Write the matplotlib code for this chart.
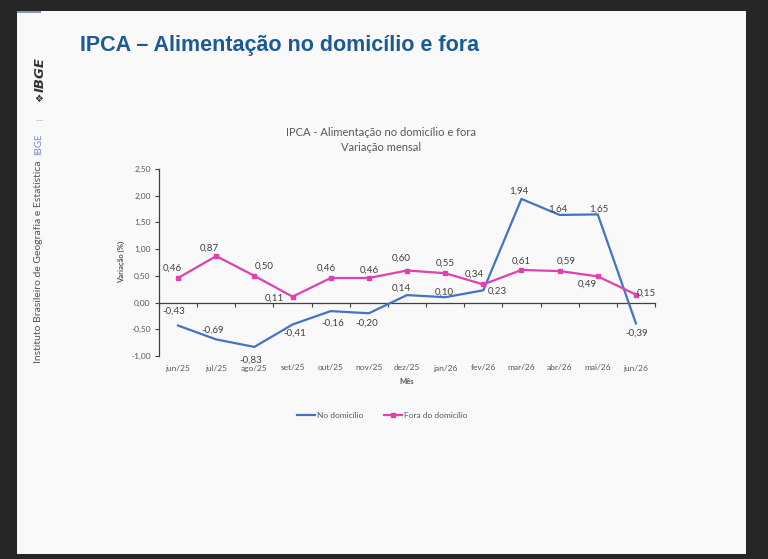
import matplotlib
matplotlib.use('Agg')
import matplotlib.pyplot as plt
from matplotlib.patches import Rectangle

# data
meses = ['jun/25', 'jul/25', 'ago/25', 'set/25', 'out/25', 'nov/25', 'dez/25',
         'jan/26', 'fev/26', 'mar/26', 'abr/26', 'mai/26', 'jun/26']
no_domicilio = [-0.43, -0.69, -0.83, -0.41, -0.16, -0.20, 0.14, 0.10, 0.23, 1.94, 1.64, 1.65, -0.39]
fora_domicilio = [0.46, 0.87, 0.50, 0.11, 0.46, 0.46, 0.60, 0.55, 0.34, 0.61, 0.59, 0.49, 0.15]
y_ticks = [-1.0, -0.5, 0.0, 0.5, 1.0, 1.5, 2.0, 2.5]

# label offsets in pixels (dx, dy) relative to each point
off_no = [(-4, 14), (-4, 9), (-4, -13), (2, -9), (2, -12), (-2, -10), (-6, 7),
          (-1, 5), (14, -1), (-3, 8), (-2, 6), (1, 5), (1, -10)]
off_fora = [(-6, 10), (-7, 8), (10, 10), (-18, -1), (-4, 10), (0, 8), (-6, 12),
            (0, 10), (-9, 10), (0, 9), (7, 10), (-10, -8), (10, 1)]

BLUE = '#4472C4'
PINK = '#E040B0'
GRAY = '#595959'
FONT = 'Lato'

W, H = 768, 559
fig = plt.figure(figsize=(W / 100, H / 100), dpi=100)
fig.patch.set_facecolor('#262626')

# slide background
fig.add_artist(Rectangle((17 / W, 1 - 554 / H), (746 - 17) / W, (554 - 11) / H,
                         transform=fig.transFigure, facecolor='#F9F9F9', edgecolor='none', zorder=0))
fig.add_artist(Rectangle((17 / W, 1 - 13 / H), 24 / W, 2 / H,
                         transform=fig.transFigure, facecolor='#8595B5', edgecolor='none', zorder=1))

# slide header
fig.text(80 / W, 1 - 45 / H, 'IPCA – Alimentação no domicílio e fora',
         family='Liberation Sans', fontsize=15.5, fontweight='bold',
         color='#1B5A96', va='center', ha='left')

# left branding
fig.text(40 / W, 1 - 75 / H, 'IBGE', rotation=90, family='DejaVu Sans', fontsize=9.5,
         fontweight='bold', style='italic', color='#333333', ha='center', va='center')
fig.text(40 / W, 1 - 97 / H, '\u2756', rotation=90, family='DejaVu Sans', fontsize=7.5,
         color='#333333', ha='center', va='center')
fig.add_artist(Rectangle((36 / W, 1 - 121 / H), 7 / W, 1 / H, transform=fig.transFigure,
                         facecolor='#D0D0D0', edgecolor='none'))
fig.text(39 / W, 1 - 144 / H, 'IBGE', rotation=90, family=FONT, fontsize=7,
         color='#7A8CC8', ha='center', va='center')
fig.text(39 / W, 1 - 262 / H, 'Instituto Brasileiro de Geografia e Estatística', rotation=90,
         family=FONT, fontsize=7.5, color='#555555', ha='center', va='center')

# chart
ax = fig.add_axes([159 / W, 1 - 356 / H, (655 - 159) / W, (356 - 169) / H])
ax.set_facecolor('none')
x = list(range(len(meses)))

ax.plot(x, no_domicilio, color=BLUE, lw=1.6, label='No domicílio', zorder=3)
ax.plot(x, fora_domicilio, color=PINK, lw=1.6, marker='s', ms=2.5, label='Fora do domicílio', zorder=3)

for xi, v, (dx, dy) in zip(x, no_domicilio, off_no):
    ax.annotate(f'{v:.2f}'.replace('.', ','), (xi, v), xytext=(dx, dy), textcoords='offset pixels',
                ha='center', va='center', fontsize=7, color='#404040', family=FONT)
for xi, v, (dx, dy) in zip(x, fora_domicilio, off_fora):
    ax.annotate(f'{v:.2f}'.replace('.', ','), (xi, v), xytext=(dx, dy), textcoords='offset pixels',
                ha='center', va='center', fontsize=7, color='#404040', family=FONT)

ax.set_xlim(-0.5, len(meses) - 0.5)
ax.set_ylim(-1.0, 2.5)
ax.set_yticks(y_ticks)
ax.set_yticklabels([f'{t:.2f}'.replace('.', ',') for t in y_ticks], fontsize=6,
                   color=GRAY, family=FONT)
ax.tick_params(axis='y', direction='out', length=3, width=0.8, color='#404040', pad=3)

for s in ['top', 'right']:
    ax.spines[s].set_visible(False)
ax.spines['left'].set_color('#404040')
ax.spines['left'].set_linewidth(0.9)
ax.spines['bottom'].set_position(('data', 0))
ax.spines['bottom'].set_color('#404040')
ax.spines['bottom'].set_linewidth(0.9)

# category boundary ticks on the zero line, labels at the bottom
ax.set_xticks([i - 0.5 for i in range(len(meses) + 1)])
ax.set_xticklabels([])
ax.tick_params(axis='x', direction='out', length=3, width=0.8, color='#404040')
for xi, m in zip(x, meses):
    ax.annotate(m, (xi, 0), xycoords=('data', 'axes fraction'), xytext=(0, -12),
                textcoords='offset pixels', ha='center', va='center', fontsize=6,
                color=GRAY, family=FONT)

ax.annotate('Mês', (0.5, 0), xycoords='axes fraction', xytext=(0, -26), textcoords='offset pixels',
            ha='center', va='center', fontsize=5.5, fontweight='bold', color=GRAY, family=FONT)
fig.text(121 / W, 1 - 262 / H, 'Variação (%)', rotation=90, ha='center', va='center',
         fontsize=5.5, fontweight='bold', color=GRAY, family=FONT)

fig.text(381 / W, 1 - 132 / H, 'IPCA - Alimentação no domicílio e fora', ha='center', va='center',
         fontsize=8, color=GRAY, family=FONT)
fig.text(381 / W, 1 - 147 / H, 'Variação mensal', ha='center', va='center',
         fontsize=8, color=GRAY, family=FONT)

leg = ax.legend(loc='center', bbox_to_anchor=(382 / W, 1 - 415 / H), bbox_transform=fig.transFigure,
                ncol=2, frameon=False, handlelength=2.2, handletextpad=0.2,
                columnspacing=2.5, prop={'family': FONT, 'size': 6})
for t in leg.get_texts():
    t.set_color(GRAY)

fig.savefig('out.png', dpi=100, facecolor=fig.get_facecolor())
